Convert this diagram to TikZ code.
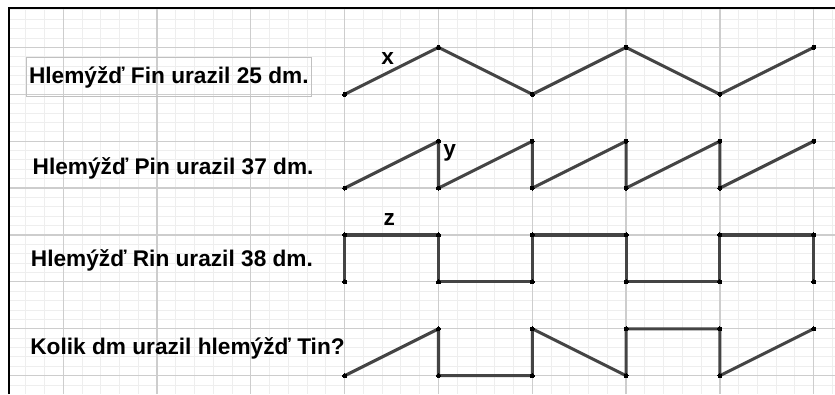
\documentclass[tikz,border=0pt]{standalone}
\usepackage{fontspec}
\setmainfont{Liberation Sans}
\usetikzlibrary{positioning}

\begin{document}
\begin{tikzpicture}[
  x={(2.4728cm,0cm)},
  y={(0cm,1.2364cm)},
  font=\fontsize{17pt}{20pt}\selectfont\bfseries,
  wave/.style={draw=wavegray, line width=2.3pt, line join=round,
    mark=*, mark size=1.5pt, mark options={fill=black, draw=black, line width=0pt}},
  snaillabel/.style={anchor=base west, inner sep=0pt},
  letterlabel/.style={anchor=base west, inner sep=0pt}
]
  \definecolor{wavegray}{RGB}{68,68,68}
  \definecolor{majorgray}{RGB}{205,205,205}
  \definecolor{minorgray}{RGB}{238,238,238}
  \definecolor{boxgray}{RGB}{192,192,192}

  \def\xmin{-3.6748}
  \def\xmax{5.2271}
  \def\ymin{-0.3902}
  \def\ymax{8.0107}
  \def\xleft{-3.579}
  \def\ytop{7.840}

  \useasboundingbox (\xmin,\ymin) rectangle (\xmax,\ymax);
  \fill[white] (\xmin,\ymin) rectangle (\xmax,\ymax);

  % Squared paper: fine lines every 0.2, stronger ones every unit
  \foreach \i in {-17,...,26}
    \draw[minorgray, line width=0.75pt] (\i/5,\ymin) -- (\i/5,\ytop);
  \foreach \j in {-1,...,39}
    \draw[minorgray, line width=0.75pt] (\xleft,\j/5) -- (\xmax,\j/5);
  \foreach \i in {-3,...,5}
    \draw[majorgray, line width=0.9pt] (\i,\ymin) -- (\i,\ytop);
  \foreach \j in {0,...,7}
    \draw[majorgray, line width=0.9pt] (\xleft,\j) -- (\xmax,\j);

  % Frame on the top and left
  \draw[black, line width=1pt] (\xleft,\ymin) -- (\xleft,\ytop) -- (\xmax,\ytop);

  % Texts of the four snails
  \node[snaillabel, draw=boxgray, line width=1.1pt, inner xsep=2pt,
    text height=19.5pt, text depth=10pt] (fin) at (-3.401,6.235) {Hlemýžď Fin urazil 25 dm.};
  \node[snaillabel] (pin) at (-3.329,4.294) {Hlemýžď Pin urazil 37 dm.};
  \node[snaillabel] (rin) at (-3.348,2.324) {Hlemýžď Rin urazil 38 dm.};
  \node[snaillabel] (tin) at (-3.354,0.456) {Kolik dm urazil hlemýžď Tin?};

  % Paths of the snails
  \draw[wave] plot coordinates {(0,6) (1,7) (2,6) (3,7) (4,6) (5,7)};
  \draw[wave] plot coordinates {(0,4) (1,5) (1,4) (2,5) (2,4) (3,5) (3,4) (4,5) (4,4) (5,5)};
  \draw[wave] plot coordinates {(0,2) (0,3) (1,3) (1,2) (2,2) (2,3) (3,3) (3,2) (4,2) (4,3) (5,3) (5,2)};
  \draw[wave] plot coordinates {(0,0) (1,1) (1,0) (2,0) (2,1) (3,0) (3,1) (4,1) (4,0) (5,1)};

  % Segment names
  \node[letterlabel] (xlab) at (0.387,6.625) {x};
  \node[letterlabel] (ylab) at (1.048,4.670) {y};
  \node[letterlabel] (zlab) at (0.411,3.213) {z};
\end{tikzpicture}
\end{document}
